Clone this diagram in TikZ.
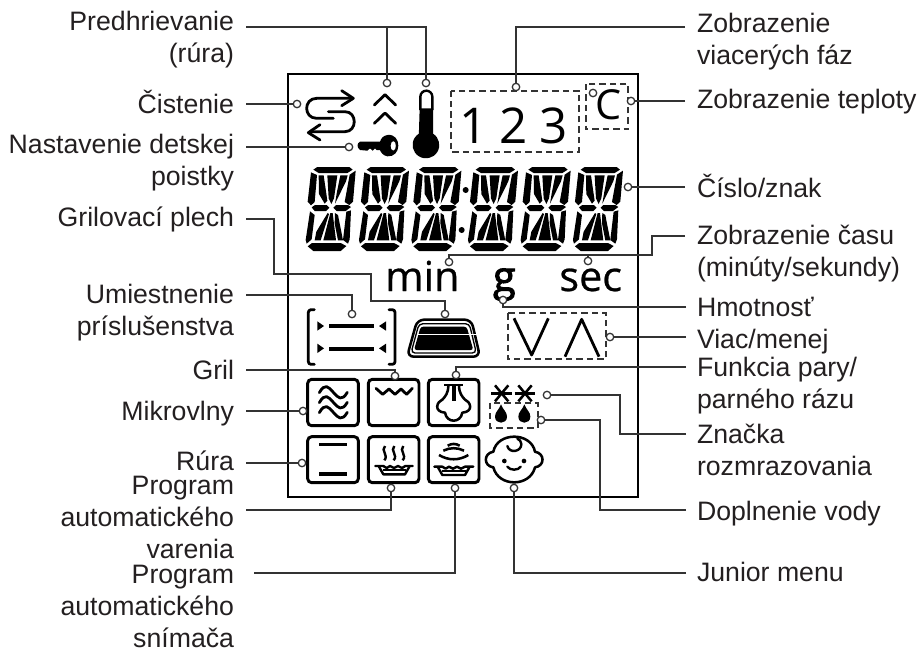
\documentclass[tikz,border=0pt]{standalone}
\usepackage{fontspec}
\setmainfont{Liberation Sans}
\newfontfamily\dispfont{Open Sans}
\newfontfamily\dispmed[FakeBold=0.6]{Open Sans}
\newfontfamily\dispheavy[FakeBold=2.4]{Open Sans}
\definecolor{ink}{HTML}{231F20}
\definecolor{leadc}{HTML}{333333}
\newcommand{\dseg}{%
\fill (40,29)--(52,21)--(148,21)--(158,29)--(142,39)--(56,39)--cycle;
\fill (33,37)--(51,45)--(44,126)--(33,136)--(23,125)--cycle;
\fill (149,44)--(167,32)--(159,125)--(148,135)--(134,126)--cycle;
\fill (56,46)--(71,46)--(82,122)--(74,131)--(57,102)--cycle;
\fill (82,46)--(112,46)--(102,115)--(94,132)--(86,115)--cycle;
\fill (121,46)--(143,46)--(138,64)--(105,131)--(111,95)--cycle;
\fill (35,142)--(45,135)--(80,135)--(88,143)--(78,153)--(44,153)--cycle;
\fill (100,143)--(108,135)--(144,135)--(153,141)--(137,153)--(110,153)--cycle;
\fill (30,154)--(44,165)--(35,238)--(20,251)--(17,240)--cycle;
\fill (83,159)--(87,162)--(62,241)--(44,241)--(49,215)--cycle;
\fill (91,159)--(98,159)--(108,241)--(70,241)--cycle;
\fill (105,159)--(114,165)--(129,241)--(114,241)--(104,190)--cycle;
\fill (139,155)--(153,151)--(149,238)--(144,251)--(129,240)--cycle;
\fill (23,259)--(36,249)--(122,249)--(139,258)--(122,273)--(40,273)--cycle;
}
\begin{document}
\begin{tikzpicture}[x=0.75pt,y=-0.75pt,
  every node/.style={inner sep=0pt,outer sep=0pt},
  lab/.style={font=\fontsize{20}{23.9}\selectfont,text=ink},
  labl/.style={lab,anchor=base east,align=right},
  labr/.style={lab,anchor=base west,align=left},
  lead/.style={draw=leadc,line width=1.25pt},
  ring/.style={circle,draw=leadc,fill=white,line width=0.95pt,minimum size=5.6pt},
  dbox/.style={draw=leadc,line width=1.6pt,dash pattern=on 4.8pt off 3pt},
  icon/.style={draw=black,line width=2.2pt,rounded corners=3pt},
  stk/.style={draw=black,line width=2.1pt,line cap=round,line join=round},
  zone/.style={x=0.25pt,y=-0.25pt}]
\useasboundingbox (0,0) rectangle (919,651);
\draw[black,line width=2pt] (288,74) rectangle (638,497);

% --- top icons
\begin{scope}[shift={(270,60)},zone]
\draw[stk] (245,115)--(140,115) .. controls (100,115) and (100,175) .. (140,175)--(190,175);
\draw[stk] (175,155)--(225,155) .. controls (262,155) and (262,215) .. (225,215)--(120,215);
\draw[stk] (215,92)--(250,115)--(215,137);
\draw[stk] (150,194)--(115,218)--(150,240);
\draw[stk] (313,135)--(345,104)--(377,135);
\draw[stk] (313,190)--(345,159)--(377,190);
% key
\fill[even odd rule] (352,225) .. controls (375,222) and (385,240) .. (385,257) .. controls (385,275) and (372,291) .. (352,289) .. controls (338,287) and (332,275) .. (330,270) -- (320,270)--(315,265)--(308,272)--(300,265)--(292,272)--(270,270) .. controls (260,262) and (260,250) .. (270,245) -- (330,245) .. controls (333,235) and (340,227) .. (352,225) -- cycle (370,243) .. controls (360,243) and (358,272) .. (370,272) .. controls (380,272) and (380,243) .. (370,243) -- cycle;
% thermometer
\draw[black,line width=1.8pt] (451,150)--(451,110) arc[start angle=180,end angle=360,x radius=18,y radius=18]--(487,150);
\fill (449,145)--(489,145)--(489,221) arc[start angle=-58,end angle=238,radius=40]--cycle;
% dashed boxes
\draw[dbox] (543,92) rectangle (927,275);
\node[font=\dispfont\fontsize{37}{37}\selectfont,anchor=base] (n1) at (612,249) {1};
\node[font=\dispfont\fontsize{37}{37}\selectfont,anchor=base] (n2) at (730,249) {2};
\node[font=\dispfont\fontsize{37}{37}\selectfont,anchor=base] (n3) at (852,249) {3};
\draw[dbox] (947,72) rectangle (1075,208);
\node[font=\dispfont\fontsize{31}{31}\selectfont,anchor=base] (cc) at (1017,179) {C};
% colon
\fill (587,390) circle[radius=9];
\fill (575,510) circle[radius=9];
\end{scope}

% --- 14-segment digits
\foreach \d in {0,53.3,105.7,162.3,215,267.3}{
  \begin{scope}[shift={({300+\d},160)},zone,fill=black]
  \dseg
  \end{scope}
}

% --- units, rails, tray, up/down
\begin{scope}[shift={(270,220)},zone]
\node[font=\dispmed\fontsize{31}{31}\selectfont,anchor=base] (umin) at (457,213) {min};
\node[font=\dispheavy\fontsize{31}{31}\selectfont,anchor=base] (ug) at (703,213) {g};
\node[font=\dispmed\fontsize{31}{31}\selectfont,anchor=base] (usec) at (962,213) {sec};
\draw[stk,rounded corners=2pt] (133,269)--(115,269)--(115,433)--(133,433);
\draw[stk,rounded corners=2pt] (357,269)--(375,269)--(375,433)--(357,433);
\draw[black,line width=3pt] (178,318)--(312,318);
\draw[black,line width=3pt] (178,387)--(312,387);
\fill (142,304)--(162,318)--(142,332)--cycle;
\fill (142,371)--(162,385)--(142,399)--cycle;
\fill (348,304)--(327,318)--(348,332)--cycle;
\fill (348,371)--(327,385)--(348,399)--cycle;
\draw[black,line width=1.9pt,rounded corners=5pt,line join=round] (442,299)--(604,299)--(630,410)--(411,410)--cycle;
\draw[black,line width=1pt,rounded corners=3pt] (447,311)--(598,311)--(619,399)--(423,399)--cycle;
\fill[black,rounded corners=2pt] (452,320)--(590,320)--(610,390)--(432,390)--cycle;
\draw[white,line width=0.8pt] (445,343)--(620,343);
\draw[dbox] (713,280) rectangle (1008,417);
\draw[stk,line cap=butt] (732,295)--(785,405)--(835,295);
\draw[stk,line cap=butt] (885,410)--(935,298)--(987,410);
\end{scope}

% --- bottom icon grid
\begin{scope}[shift={(270,360)},zone]
\foreach \xa/\xb in {113/265,295/447,475/627}{
  \draw[icon] (\xa,58) rectangle (\xb,197);
  \draw[icon] (\xa,230) rectangle (\xb,368);
}
% microwave
\foreach \yy in {0,30,60}{
  \draw[stk] (148,{98+\yy}) .. controls (165,{68+\yy}) and (175,{80+\yy}) .. (190,{97+\yy}) .. controls (205,{114+\yy}) and (215,{125+\yy}) .. (232,{97+\yy});
}
% grill
\draw[stk] (318,85)--(338,103)--(357,87)--(375,103)--(393,87)--(410,103)--(427,85);
% steam
\draw[black,line width=2.2pt] (522,75)--(580,75);
\draw[black,line width=3pt] (551,75)--(551,122);
\draw[stk,line width=1.9pt] (535,76) .. controls (535,100) and (525,110) .. (518,118) .. controls (500,125) and (490,155) .. (525,158) .. controls (530,190) and (572,190) .. (577,158) .. controls (612,155) and (602,125) .. (584,118) .. controls (577,110) and (567,100) .. (567,76);
% bars
\draw[black,line width=2.4pt] (147,253)--(231,253);
\draw[black,line width=2.4pt] (147,342)--(231,342);
% steam waves + pan
\foreach \sx in {345,373,400}{
  \draw[black,line width=1.8pt] (\sx,258) .. controls ({\sx-14},272) and ({\sx+12},285) .. ({\sx-2},301);
}
\draw[stk,line width=1.8pt] (316,318)--(340,318)--(350,324)--(360,318)--(372,324)--(384,318)--(396,324)--(406,318)--(428,318);
\draw[stk,line width=1.8pt] (327,320)--(340,343)--(405,343)--(418,320);
\draw[black,line width=1.4pt] (338,331)--(408,331);
% sensor
\draw[black,line width=1.9pt] (533,257) .. controls (545,250) and (557,250) .. (569,257);
\draw[black,line width=1.9pt] (520,272) .. controls (540,262) and (562,262) .. (582,272);
\draw[black,line width=1.9pt] (507,285) .. controls (535,302) and (567,302) .. (595,285);
\draw[stk,line width=1.8pt] (493,320)--(517,320)--(527,326)--(537,320)--(549,326)--(561,320)--(573,326)--(585,320)--(610,320);
\draw[stk,line width=1.8pt] (504,322)--(517,345)--(585,345)--(598,322);
\draw[black,line width=1.4pt] (515,333)--(588,333);
% baby
\draw[stk,line width=1.9pt] (670,275) .. controls (682,215) and (783,215) .. (795,275) .. controls (825,280) and (825,318) .. (795,322) .. controls (780,382) and (685,382) .. (670,322) .. controls (640,318) and (640,280) .. (670,275) -- cycle;
\draw[stk,line width=1.8pt] (712,258) .. controls (718,282) and (755,275) .. (754,252) .. controls (754,244) and (748,238) .. (742,236);
\fill (703,303) circle[radius=7];
\fill (762,303) circle[radius=7];
\draw[stk,line width=1.8pt] (712,320) .. controls (720,332) and (745,332) .. (752,320);
% snow and drops
\foreach \cx in {695,765}{
  \draw[black,line width=1.9pt] ({\cx-31},100)--({\cx+31},100);
  \draw[black,line width=1.9pt] ({\cx-20},76)--({\cx+20},124);
  \draw[black,line width=1.9pt] ({\cx+20},76)--({\cx-20},124);
}
\foreach \cx in {693,763}{
  \fill (\cx,133) .. controls ({\cx+6},150) and ({\cx+18},155) .. ({\cx+18},170) .. controls ({\cx+18},194) and ({\cx-18},194) .. ({\cx-18},170) .. controls ({\cx-18},155) and ({\cx-6},150) .. (\cx,133) -- cycle;
}
\draw[dbox] (660,128) rectangle (803,203);
\end{scope}

% --- rings
\node[ring] (rpre1) at (387,83) {};
\node[ring] (rpre2) at (426,83) {};
\node[ring] (rclean) at (297,104) {};
\node[ring] (rkey) at (349,147) {};
\node[ring] (rtray) at (445,314) {};
\node[ring] (rrail) at (352,314) {};
\node[ring] (rgrill) at (395,376) {};
\node[ring] (rmicro) at (303,411) {};
\node[ring] (roven) at (302,463) {};
\node[ring] (rauto) at (391,488) {};
\node[ring] (rsens) at (455,488) {};
\node[ring] (rphase) at (516,87) {};
\node[ring] (rtemp) at (631,101) {};
\node[ring] (rdeg) at (593,93) {};
\node[ring] (rnum) at (628,187) {};
\node[ring] (rmin) at (449,262) {};
\node[ring] (rsec) at (588,261) {};
\node[ring] (rg) at (503,300) {};
\node[ring] (rmore) at (610,337) {};
\node[ring] (rsteam) at (456,375) {};
\node[ring] (rdef) at (547,395) {};
\node[ring] (rwater) at (541,420) {};
\node[ring] (rjun) at (514,488) {};

% --- labels left
\node[labl] (lpre) at (234,62) {Predhrievanie\\(rúra)};
\node[labl] (lclean) at (234,113) {Čistenie};
\node[labl] (lkey) at (234,185) {Nastavenie detskej\\poistky};
\node[labl] (ltray) at (234,226) {Grilovací plech};
\node[labl] (lrail) at (234,335) {Umiestnenie\\príslušenstva};
\node[labl] (lgrill) at (234,379) {Gril};
\node[labl] (lmicro) at (234,420) {Mikrovlny};
\node[labl] (loven) at (234,470) {Rúra};
\node[labl] (lauto) at (234,558) {Program\\automatického\\varenia};
\node[labl] (lsens) at (234,647) {Program\\automatického\\snímača};
% --- labels right
\node[labr] (tphase) at (697,64) {Zobrazenie\\viacerých fáz};
\node[labr] (ttemp) at (697,108) {Zobrazenie teploty};
\node[labr] (tnum) at (697,197) {Číslo/znak};
\node[labr] (ttime) at (697,276) {Zobrazenie času\\(minúty/sekundy)};
\node[labr] (tmass) at (697,316) {Hmotnosť};
\node[labr] (tmore) at (697,348) {Viac/menej};
\node[labr] (tsteam) at (697,408) {Funkcia pary/\\parného rázu};
\node[labr] (tdef) at (697,475) {Značka\\rozmrazovania};
\node[labr] (twater) at (697,520) {Doplnenie vody};
\node[labr] (tjun) at (697,581) {Junior menu};

% --- free ends
\coordinate (apre) at (246,27);
\coordinate (aclean) at (246,104);
\coordinate (akey) at (246,147);
\coordinate (atray) at (246,219);
\coordinate (arail) at (246,295);
\coordinate (agrill) at (246,370);
\coordinate (amicro) at (246,411);
\coordinate (aoven) at (246,463);
\coordinate (aauto) at (246,510);
\coordinate (asens) at (254,573);
\coordinate (bphase) at (685,27);
\coordinate (btemp) at (685,101);
\coordinate (bnum) at (685,187);
\coordinate (btime) at (685,236);
\coordinate (bmass) at (686,307);
\coordinate (bmore) at (686,337);
\coordinate (bsteam) at (686,367);
\coordinate (bdef) at (686,434);
\coordinate (bwater) at (686,510);
\coordinate (bjun) at (686,573);

% --- connectors
\draw[lead] (apre) -| (rpre1.north);
\draw[lead] (apre) -| (rpre2.north);
\draw[lead] (aclean) -- (rclean.west);
\draw[lead] (akey) -- (rkey.west);
\draw[lead] (atray) -- (274,219) -- (274,274) -- (371,274) -- (371,301) -| (rtray.north);
\draw[lead] (arail) -| (rrail.north);
\draw[lead] (agrill) -| (rgrill.north);
\draw[lead] (amicro) -- (rmicro.west);
\draw[lead] (aoven) -- (roven.west);
\draw[lead] (aauto) -| (rauto.south);
\draw[lead] (asens) -| (rsens.south);
\draw[lead] (bphase) -| (rphase.north);
\draw[lead] (btemp) -- (rtemp.east);
\draw[lead] (bnum) -- (rnum.east);
\draw[lead] (btime) -- (652,236) -- (652,255) -| (rmin.north);
\draw[lead] (rsec.north) -- (rsec.north |- 0,255);
\draw[lead] (bmass) -| (rg.south);
\draw[lead] (bmore) -- (rmore.east);
\draw[lead] (bsteam) -| (rsteam.north);
\draw[lead] (bdef) -- (620,434) -- (620,395) -- (rdef.east);
\draw[lead] (bwater) -- (600,510) -- (600,420) -- (rwater.east);
\draw[lead] (bjun) -| (rjun.south);
\end{tikzpicture}
\end{document}
